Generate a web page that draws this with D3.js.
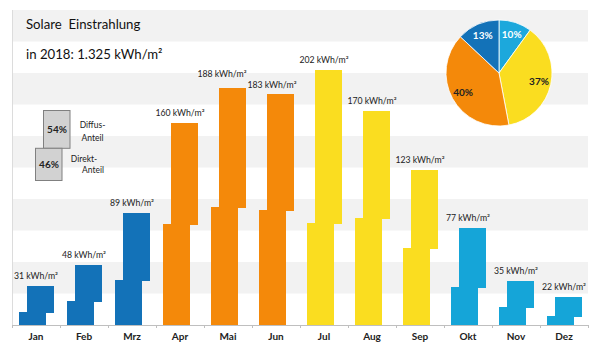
<!DOCTYPE html>
<html><head><meta charset="utf-8">
<script src="https://cdn.jsdelivr.net/npm/d3@7"></script>
<style>
html,body{margin:0;padding:0;background:#fff;}
text{font-family:Lato,"Open Sans",sans-serif;}
</style></head>
<body><svg id="c" width="600" height="356"></svg>
<script>
const months = ["Jan","Feb","Mrz","Apr","Mai","Jun","Jul","Aug","Sep","Okt","Nov","Dez"];
const totals = [31,48,89,160,188,183,202,170,123,77,35,22];
const direct = [10,19,36,80,94,91,81,85,61,30,14,7];
const diffuse = [21,29,53,80,94,92,121,85,62,47,21,15];
const quarterColors = ["#1372b8","#f4890a","#fadd20","#15a5d8"];
const pieValues = [10,37,40,13];
const pieLabels = ["10%","37%","40%","13%"];
const pieColors = ["#1ca8dc","#fadd20","#f4890a","#1372b8"];
const pieTextColors = ["#fff","#222","#222","#fff"];
const legendShares = [54,46];
const legendNames = [["Diffus-","Anteil"],["Direkt-","Anteil"]];
const yTicks = d3.range(0,251,25);

const svg = d3.select("#c");
const x = d3.scaleBand().domain(months).range([12,588]).paddingInner(0).paddingOuter(0);
const y = d3.scaleLinear().domain([0,250]).range([325,10]);
const bw = x.bandwidth();

// background bands
const bands = yTicks.slice(0,-1).map((v,i)=>({lo:v,hi:yTicks[i+1],i}));
svg.append("g").selectAll("rect").data(bands.filter(b=>b.i%2===1)).join("rect")
  .attr("x",12).attr("width",576)
  .attr("y",d=>y(d.hi)).attr("height",d=>y(d.lo)-y(d.hi))
  .attr("fill","#f2f2f2");
svg.append("line").attr("x1",12.5).attr("x2",12.5).attr("y1",y(250)).attr("y2",y(0)).attr("stroke","#dcdcdc");

// bars
const labelShift = {Mai:[-6,-4],Jun:[-4,1]};
const g = svg.append("g");
months.forEach((m,i)=>{
  const c = quarterColors[Math.floor(i/3)];
  const x0 = Math.round(x(m)+bw*7/48), x1 = Math.round(x(m)+bw*15/48), w = Math.round(bw*27/48);
  const ySplit = Math.round(y(direct[i])), yTop = Math.round(y(direct[i]+diffuse[i])), yB = y(0);
  g.append("rect").attr("x",x0).attr("width",w)
    .attr("y",ySplit).attr("height",yB-ySplit).attr("fill",c).attr("shape-rendering","crispEdges");
  g.append("rect").attr("x",x1).attr("width",w)
    .attr("y",yTop).attr("height",ySplit-yTop+1).attr("fill",c).attr("shape-rendering","crispEdges");
  const s = labelShift[m]||[0,0];
  g.append("text").attr("x",x(m)+bw/2+s[0]).attr("y",y(totals[i])-7+s[1])
    .attr("text-anchor","middle").attr("font-size",8.7).attr("fill","#222")
    .text(totals[i]+" kWh/m²");
});

// x axis
const ax = svg.append("g").attr("transform","translate(0,325)")
  .call(d3.axisBottom(x).tickSize(0).tickPadding(8));
ax.select(".domain").attr("stroke","#bfbfbf");
ax.selectAll("text").attr("font-size",10).attr("font-weight","bold").attr("fill","#222")
  .attr("font-family","Lato,'Open Sans',sans-serif");
svg.append("g").selectAll("line").data(d3.range(13)).join("line")
  .attr("x1",d=>12+d*bw+0.5).attr("x2",d=>12+d*bw+0.5).attr("y1",325).attr("y2",328)
  .attr("stroke","#bfbfbf");

// title
svg.append("text").attr("x",26).attr("y",29).attr("font-size",13.2).attr("fill","#111")
  .style("white-space","pre").text("Solare  Einstrahlung");
svg.append("text").attr("x",26).attr("y",59).attr("font-size",13.2).attr("fill","#111")
  .text("in 2018: 1.325 kWh/m²");

// legend
const lh = 70/100;
const ly0 = 110;
const h0 = legendShares[0]*lh, h1 = legendShares[1]*lh;
const lg = svg.append("g");
lg.append("rect").attr("x",43.5).attr("y",ly0+0.5).attr("width",26.5).attr("height",h0)
  .attr("fill","#d2d2d2").attr("stroke","#808080");
lg.append("rect").attr("x",35.5).attr("y",ly0+h0+0.5).attr("width",26.5).attr("height",h1)
  .attr("fill","#d2d2d2").attr("stroke","#808080");
lg.append("text").attr("x",57).attr("y",ly0+h0/2+4).attr("text-anchor","middle")
  .attr("font-size",10).attr("font-weight","bold").attr("fill","#222").text(legendShares[0]+"%");
lg.append("text").attr("x",49).attr("y",ly0+h0+h1/2+4).attr("text-anchor","middle")
  .attr("font-size",10).attr("font-weight","bold").attr("fill","#222").text(legendShares[1]+"%");
[[92.5,128],[92.5,140.5]].forEach((p,k)=>lg.append("text").attr("x",p[0]).attr("y",p[1])
  .attr("text-anchor","middle").attr("font-size",8.5).attr("fill","#222").text(legendNames[0][k]));
[[84,161.5],[93,173]].forEach((p,k)=>lg.append("text").attr("x",p[0]).attr("y",p[1])
  .attr("text-anchor","middle").attr("font-size",8.5).attr("fill","#222").text(legendNames[1][k]));

// pie
const pie = d3.pie().sort(null)(pieValues);
const arc = d3.arc().innerRadius(0).outerRadius(53);
const la = d3.arc().innerRadius(41).outerRadius(41);
const pg = svg.append("g").attr("transform","translate(499,73)");
pg.selectAll("path").data(pie).join("path").attr("d",arc)
  .attr("fill",(d,i)=>pieColors[i]).attr("stroke","#fff").attr("stroke-width",0.8);
pg.selectAll("text").data(pie).join("text")
  .attr("transform",d=>"translate("+la.centroid(d)+")")
  .attr("text-anchor","middle").attr("dy","0.35em")
  .attr("font-size",10).attr("font-weight","bold")
  .attr("fill",(d,i)=>pieTextColors[i]).text((d,i)=>pieLabels[i]);
</script></body></html>
